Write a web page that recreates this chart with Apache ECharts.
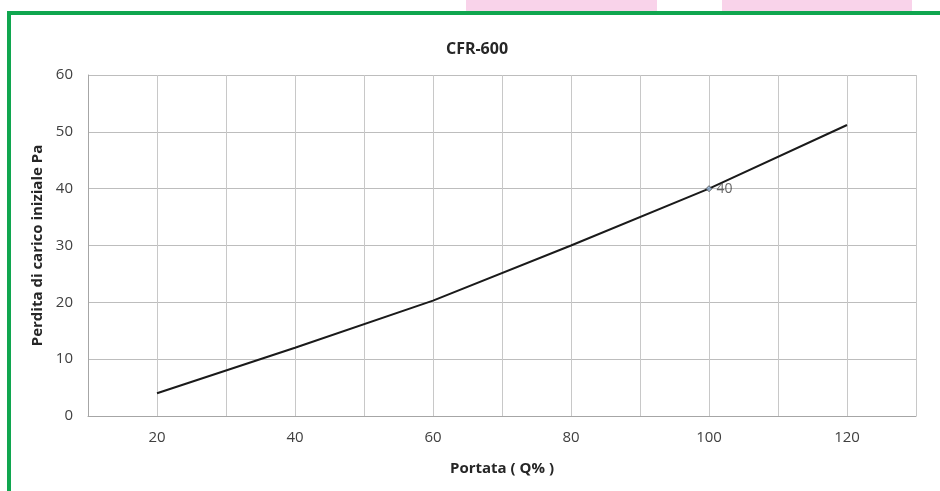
<!DOCTYPE html>
<html>
<head>
<meta charset="utf-8">
<script src="https://cdn.jsdelivr.net/npm/echarts@6/dist/echarts.min.js"></script>
<style>
html,body{margin:0;padding:0;background:#fff;}
#chart{width:940px;height:491px;}
</style>
</head>
<body>
<div id="chart"></div>
<script>
var titleText = 'CFR-600';
var xName = 'Portata ( Q% )';
var yName = 'Perdita di carico iniziale Pa';
var xValues = [20, 40, 60, 80, 100, 120];
var yValues = [4, 12, 20.3, 30, 40, 51.2];
var labeledIndex = 4;

var FONT = '"Open Sans", "Noto Sans", sans-serif';
var chart = echarts.init(document.getElementById('chart'), null, {renderer: 'canvas'});
var lineData = xValues.map(function (x, i) { return [x, yValues[i]]; });

chart.setOption({
  backgroundColor: '#ffffff',
  animation: false,
  graphic: [
    {type: 'rect', shape: {x: 466, y: 0, width: 191, height: 11}, style: {fill: '#f9d3ea'}, z: 0},
    {type: 'rect', shape: {x: 722, y: 0, width: 190, height: 11}, style: {fill: '#f9d3ea'}, z: 0},
    {type: 'rect', shape: {x: 7, y: 11, width: 933, height: 4}, style: {fill: '#10a64f'}, z: 0},
    {type: 'rect', shape: {x: 7, y: 11, width: 4, height: 480}, style: {fill: '#10a64f'}, z: 0}
  ],
  title: {
    text: titleText,
    left: 472, top: 36, textAlign: 'center',
    textStyle: {fontFamily: FONT, fontSize: 16, fontWeight: 'bold', color: '#262626'}
  },
  grid: {left: 88, right: 24, top: 75, bottom: 75, containLabel: false},
  xAxis: {
    type: 'value', min: 10, max: 130, interval: 10,
    name: xName, nameLocation: 'middle', nameGap: 45,
    nameTextStyle: {fontFamily: FONT, fontSize: 15, fontWeight: 'bold', color: '#262626'},
    axisLine: {show: true, lineStyle: {color: '#a6a6a6', width: 1}},
    axisTick: {show: false},
    axisLabel: {
      fontFamily: FONT, fontSize: 15, color: '#404040', margin: 14,
      formatter: function (v) { return v % 20 === 0 ? String(v) : ''; }
    },
    splitLine: {show: true, lineStyle: {color: '#c8c8c8', width: 1}}
  },
  yAxis: {
    type: 'value', min: 0, max: 60, interval: 10,
    name: yName, nameLocation: 'middle', nameGap: 43,
    nameTextStyle: {fontFamily: FONT, fontSize: 15, fontWeight: 'bold', color: '#262626'},
    axisLine: {show: true, lineStyle: {color: '#a6a6a6', width: 1}},
    axisTick: {show: false},
    axisLabel: {fontFamily: FONT, fontSize: 15, color: '#404040', margin: 15},
    splitLine: {show: true, lineStyle: {color: '#bdbdbd', width: 1}}
  },
  series: [
    {
      type: 'line', data: lineData, smooth: false, showSymbol: false, symbol: 'none',
      lineStyle: {color: '#1a1a1a', width: 2}, z: 3, silent: true
    },
    {
      type: 'scatter',
      data: [[xValues[labeledIndex], yValues[labeledIndex]]],
      symbol: 'diamond', symbolSize: 6,
      itemStyle: {color: '#9bbbe0', borderColor: '#404040', borderWidth: 1},
      label: {
        show: true, position: 'right', distance: 4,
        fontFamily: FONT, fontSize: 14, color: '#404040',
        formatter: function (p) { return p.value[1]; }
      },
      z: 4
    }
  ]
});
</script>
</body>
</html>
